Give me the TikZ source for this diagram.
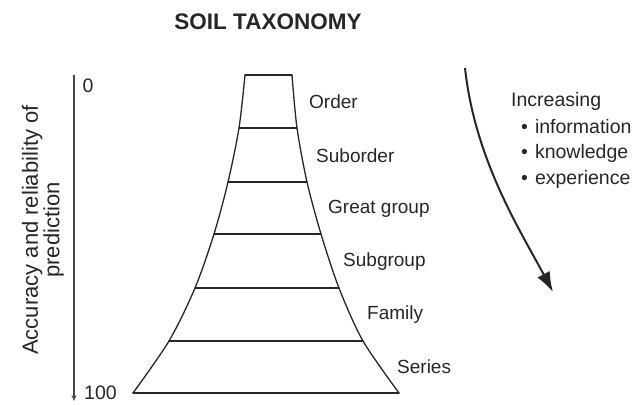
\documentclass[tikz,border=0pt]{standalone}
\usepackage{fontspec}
\setmainfont{Liberation Sans}
\usetikzlibrary{arrows.meta}
\definecolor{ink}{HTML}{262626}
\begin{document}
\begin{tikzpicture}[x=1pt,y=-1pt,
  level/.style={anchor=west,inner sep=0pt,text=ink,font=\fontsize{19}{22}\selectfont},
  pyr/.style={draw=ink,line width=1.3pt,line cap=round},
  plain/.style={inner sep=0pt,text=ink,font=\fontsize{19.5}{22}\selectfont}]
\useasboundingbox (0,0) rectangle (639,404);

% title
\node[inner sep=0pt,text=ink,font=\bfseries\fontsize{22.5}{24}\selectfont] (title) at (268,22) {SOIL TAXONOMY};

% pyramid outline with concave sides
\draw[pyr] plot[smooth,tension=0.5] coordinates {(133,393) (169,341) (195,288) (214,234) (228,182) (239,128) (245,75)};
\draw[pyr] plot[smooth,tension=0.5] coordinates {(292,75) (297,128) (307,182) (321,234) (339,288) (363,341) (399,393)};
\draw[pyr] (245,75) -- (292,75);
\draw[pyr] (133,393) -- (399,393);
% level dividers
\draw[pyr] (239,128) -- (297,128);
\draw[pyr] (228,182) -- (307,182);
\draw[pyr] (214,234) -- (321,234);
\draw[pyr] (195,288) -- (339,288);
\draw[pyr] (169,341) -- (363,341);

% level names
\node[level] (order)    at (309,102) {Order};
\node[level] (suborder) at (316,156) {Suborder};
\node[level] (great)    at (328,209) {Great group};
\node[level] (subgroup) at (343,262) {Subgroup};
\node[level] (family)   at (367,315) {Family};
\node[level] (series)   at (397,367) {Series};

% prediction axis
\coordinate (axtop) at (74,75);
\coordinate (axbot) at (74,401);
\draw[draw=ink!85,line width=1.4pt,-{Stealth[length=6pt,width=5pt]}] (axtop) -- (axbot);
\node[plain] (zero) at (88,86) {0};
\node[plain,anchor=west] (hundred) at (84,393) {100};
\node[plain,rotate=90,align=center,font=\fontsize{22}{19.5}\selectfont] (axlabel) at (43,230)
  {Accuracy and reliability of\\prediction};

% increasing knowledge arrow
\coordinate (arrstart) at (465,68);
\coordinate (arrend) at (553,292);
\draw[draw=ink,line width=2pt,-{Latex[length=20pt,width=14pt]}]
  (arrstart) .. controls (475,160) and (520,230) .. (arrend);

\node[plain,anchor=west] (incr) at (511,101) {Increasing};
\node[plain,anchor=west] (b1) at (521,127) {\textbullet\hspace{7pt}information};
\node[plain,anchor=west] (b2) at (521,153) {\textbullet\hspace{7pt}knowledge};
\node[plain,anchor=west] (b3) at (521,179) {\textbullet\hspace{7pt}experience};
\end{tikzpicture}
\end{document}
